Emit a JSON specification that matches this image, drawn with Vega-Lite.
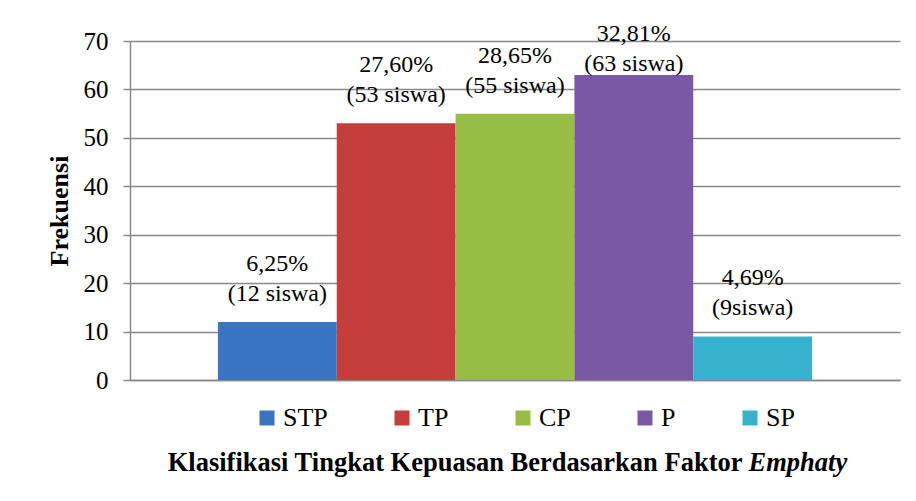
{
  "$schema": "https://vega.github.io/schema/vega-lite/v6.json",
  "width": 770,
  "height": 339,
  "autosize": {"type": "none"},
  "padding": {"left": 130, "top": 41, "right": 16, "bottom": 121},
  "background": "white",
  "config": {"font": "Liberation Serif", "view": {"stroke": null}},
  "data": {
    "values": [
      {"kategori": "STP", "frekuensi": 12, "label": ["6,25%", "(12 siswa)"]},
      {"kategori": "TP", "frekuensi": 53, "label": ["27,60%", "(53 siswa)"]},
      {"kategori": "CP", "frekuensi": 55, "label": ["28,65%", "(55 siswa)"]},
      {"kategori": "P", "frekuensi": 63, "label": ["32,81%", "(63 siswa)"]},
      {"kategori": "SP", "frekuensi": 9, "label": ["4,69%", "(9siswa)"]}
    ]
  },
  "encoding": {
    "x": {
      "field": "kategori",
      "type": "nominal",
      "sort": ["STP", "TP", "CP", "P", "SP"],
      "scale": {"paddingInner": 0, "paddingOuter": 0.74},
      "axis": {
        "labels": false,
        "ticks": false,
        "domain": true,
        "domainColor": "#898989",
        "domainWidth": 1.5,
        "title": "Klasifikasi Tingkat Kepuasan Berdasarkan Faktor",
        "titleFontSize": 26.5,
        "titleFontWeight": "bold",
        "titleColor": "black",
        "titleAlign": "right",
        "titleBaseline": "alphabetic",
        "titleX": 612,
        "titleY": 90
      }
    }
  },
  "layer": [
    {
      "mark": {"type": "bar"},
      "encoding": {
        "y": {
          "field": "frekuensi",
          "type": "quantitative",
          "scale": {"domain": [0, 70], "nice": false},
          "axis": {
            "values": [0, 10, 20, 30, 40, 50, 60, 70],
            "grid": true,
            "gridColor": "#898989",
            "gridWidth": 1.5,
            "domainColor": "#898989",
            "domainWidth": 1.5,
            "tickColor": "#898989",
            "tickWidth": 1.5,
            "tickSize": 7,
            "labelFontSize": 25,
            "labelColor": "black",
            "labelPadding": 15,
            "title": "Frekuensi",
            "titleFontSize": 26,
            "titleFontWeight": "bold",
            "titleColor": "black",
            "titleAngle": -90,
            "titleAlign": "center",
            "titleBaseline": "alphabetic",
            "titleX": -63,
            "titleY": 169.5
          }
        },
        "color": {
          "field": "kategori",
          "type": "nominal",
          "scale": {
            "domain": ["STP", "TP", "CP", "P", "SP"],
            "range": ["#3A75C4", "#C63E3B", "#98BD45", "#7A58A4", "#36B2CE"]
          },
          "legend": {
            "orient": "none",
            "direction": "horizontal",
            "legendX": 124,
            "legendY": 364,
            "padding": 0,
            "title": null,
            "symbolType": "square",
            "symbolSize": 225,
            "symbolStrokeWidth": 0,
            "labelFontSize": 26,
            "labelColor": "black",
            "labelOffset": 3,
            "columnPadding": 61
          }
        }
      }
    },
    {
      "mark": {"type": "text", "baseline": "bottom", "dy": -46, "fontSize": 24, "lineHeight": 30, "color": "black"},
      "encoding": {
        "y": {
          "field": "frekuensi",
          "type": "quantitative",
          "scale": {"domain": [0, 59.5], "range": [339, 50.8], "clamp": true, "nice": false, "zero": true},
          "axis": {
            "orient": "right",
            "labels": false,
            "ticks": false,
            "domain": false,
            "grid": false,
            "title": "Emphaty",
            "titleAngle": 0,
            "titleFontSize": 26.5,
            "titleFontWeight": "bold",
            "titleFontStyle": "italic",
            "titleColor": "black",
            "titleAlign": "left",
            "titleBaseline": "alphabetic",
            "titleX": -152,
            "titleY": 429
          }
        },
        "text": {"field": "label"}
      }
    }
  ],
  "resolve": {"scale": {"y": "independent"}, "axis": {"y": "independent"}}
}
